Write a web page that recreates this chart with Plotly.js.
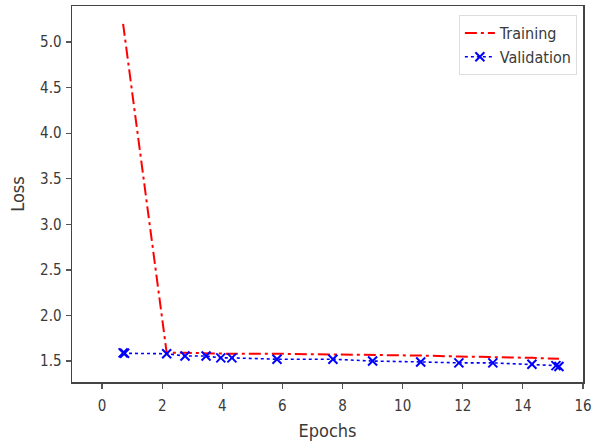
<!DOCTYPE html>
<html>
<head>
<meta charset="utf-8">
<script src="https://cdn.plot.ly/plotly-3.0.1.min.js"></script>
<style>
  html, body { margin: 0; padding: 0; background: #fff; }
  #chart { width: 593px; height: 444px; }
</style>
</head>
<body>
<div id="chart"></div>
<script>
// Loss per epoch for training and validation runs
const epochs = [0.7, 2.15, 2.76, 3.46, 3.95, 4.32, 5.82, 7.68, 9.0, 10.6, 11.87, 13.0, 14.3, 15.2];
const trainingLoss = [5.2, 1.59, 1.59, 1.585, 1.585, 1.58, 1.58, 1.575, 1.57, 1.56, 1.55, 1.545, 1.535, 1.525];
const validationEpochs = [0.7, 0.75, 2.15, 2.76, 3.46, 3.95, 4.32, 5.82, 7.68, 9.0, 10.6, 11.87, 13.0, 14.3, 15.1, 15.2];
const validationLoss = [1.59, 1.585, 1.58, 1.555, 1.555, 1.535, 1.535, 1.52, 1.52, 1.5, 1.49, 1.48, 1.48, 1.465, 1.45, 1.44];
const xTicks = [0, 2, 4, 6, 8, 10, 12, 14, 16];
const yTicks = [1.5, 2.0, 2.5, 3.0, 3.5, 4.0, 4.5, 5.0];

const font = 'DejaVu Sans Condensed, DejaVu Sans, sans-serif';
const textColor = '#3a3a3a';

const traces = [
  {
    x: epochs, y: trainingLoss, name: 'Training', mode: 'lines', legendgroup: 'a',
    line: { color: '#ff0000', width: 2, dash: '12px,4px,3px,4px' }
  },
  {
    x: validationEpochs, y: validationLoss, name: 'Validation', mode: 'lines+markers', legendgroup: 'b',
    line: { color: '#0000ff', width: 1.6, dash: 'dot' },
    marker: { symbol: 'x-thin-open', size: 9, color: '#0000ff', line: { color: '#0000ff', width: 2 } }
  }
];

const axisCommon = {
  showgrid: false, zeroline: false, showline: true, mirror: true,
  linecolor: '#444', linewidth: 1.5,
  ticks: 'outside', ticklen: 5, tickwidth: 1.2, tickcolor: '#555',
  tickfont: { family: font, size: 15, color: textColor }
};

const layout = {
  width: 593, height: 444,
  margin: { l: 72, r: 10, t: 6, b: 62 },
  paper_bgcolor: '#fff', plot_bgcolor: '#fff',
  showlegend: true,
  legend: {
    x: 0.988, y: 0.976, xanchor: 'right', yanchor: 'top',
    bgcolor: 'rgba(255,255,255,0.9)', bordercolor: '#ddd', borderwidth: 1,
    font: { family: font, size: 16, color: textColor },
    tracegroupgap: 0
  },
  xaxis: Object.assign({}, axisCommon, {
    range: [-1, 16], tickvals: xTicks, ticktext: xTicks.map(String),
    ticklabelstandoff: 4,
    title: { text: 'Epochs', font: { family: font, size: 18, color: textColor }, standoff: 11 }
  }),
  yaxis: Object.assign({}, axisCommon, {
    range: [1.27, 5.396], tickvals: yTicks, ticktext: yTicks.map(v => v.toFixed(1)),
    ticklabelstandoff: 1,
    title: { text: 'Loss', font: { family: font, size: 18, color: textColor }, standoff: 10 }
  })
};

Plotly.newPlot('chart', traces, layout, { displayModeBar: false, staticPlot: true });
</script>
</body>
</html>
